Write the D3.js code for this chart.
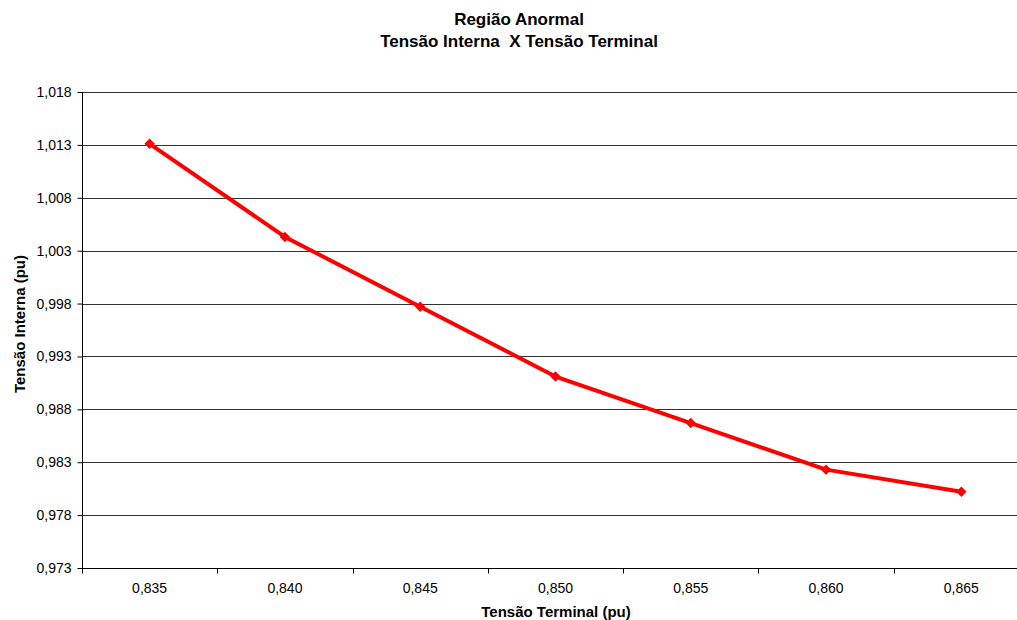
<!DOCTYPE html>
<html>
<head>
<meta charset="utf-8">
<script src="https://cdn.jsdelivr.net/npm/d3@7"></script>
<style>
  html, body { margin: 0; padding: 0; background: #fff; overflow: hidden; }
  svg { display: block; font-family: "Liberation Sans", Arial, sans-serif; }
  svg text { white-space: pre; }
</style>
</head>
<body>
<svg id="chart" width="1017" height="620"></svg>
<script>
// Terminal voltage categories (pu) and internal voltage readings (pu)
const categories = ["0,835", "0,840", "0,845", "0,850", "0,855", "0,860", "0,865"];
const internalVoltage = [1.0131, 1.0043, 0.9977, 0.9911, 0.9867, 0.9823, 0.9802];
const yTickValues = [0.973, 0.978, 0.983, 0.988, 0.993, 0.998, 1.003, 1.008, 1.013, 1.018];

const titleLines = ["Região Anormal", "Tensão Interna  X Tensão Terminal"];
const xTitle = "Tensão Terminal (pu)";
const yTitle = "Tensão Interna (pu)";

const svg = d3.select("#chart");
const plot = { left: 82, top: 92, right: 1029, bottom: 568 };

const x = d3.scaleBand().domain(categories).range([plot.left, plot.right]);
const y = d3.scaleLinear().domain([0.973, 1.018]).range([plot.bottom, plot.top]);

const fmt = v => d3.format(".3f")(v).replace(".", ",");

// Horizontal gridlines
svg.append("g")
  .selectAll("line")
  .data(yTickValues.slice(1))
  .join("line")
  .attr("x1", plot.left).attr("x2", plot.right)
  .attr("y1", d => Math.round(y(d)) + 0.5).attr("y2", d => Math.round(y(d)) + 0.5)
  .attr("stroke", "#333").attr("stroke-width", 1);

// Y axis
const yAxis = svg.append("g")
  .attr("transform", `translate(${plot.left + 0.5},0)`)
  .call(d3.axisLeft(y).tickValues(yTickValues).tickFormat(fmt).tickSize(5).tickPadding(6));
yAxis.select(".domain").attr("stroke", "#000").attr("d", `M0,${plot.top}V${plot.bottom}`);
yAxis.selectAll(".tick line").attr("stroke", "#000");
yAxis.selectAll("text").attr("font-size", 14).attr("fill", "#000")
  .attr("font-family", "'Liberation Sans', Arial, sans-serif");

// X axis: ticks at category boundaries
const xAxisG = svg.append("g").attr("transform", `translate(0,${plot.bottom + 0.5})`);
xAxisG.append("line")
  .attr("x1", plot.left).attr("x2", plot.right)
  .attr("stroke", "#000");
const boundaries = categories.map(c => x(c)).concat([x(categories[categories.length - 1]) + x.bandwidth()]);
xAxisG.selectAll("line.tick")
  .data(boundaries)
  .join("line")
  .attr("class", "tick")
  .attr("x1", d => Math.round(d) + 0.5).attr("x2", d => Math.round(d) + 0.5)
  .attr("y1", 0).attr("y2", 5)
  .attr("stroke", "#000");
xAxisG.selectAll("text")
  .data(categories)
  .join("text")
  .attr("x", d => x(d) + x.bandwidth() / 2)
  .attr("y", 24)
  .attr("text-anchor", "middle")
  .attr("font-size", 14)
  .text(d => d);

// Series line
const line = d3.line()
  .x((d, i) => x(categories[i]) + x.bandwidth() / 2)
  .y(d => y(d));

svg.append("path")
  .datum(internalVoltage)
  .attr("d", line)
  .attr("fill", "none")
  .attr("stroke", "#ff0000")
  .attr("stroke-width", 4)
  .attr("stroke-linejoin", "round");

// Diamond markers
svg.append("g")
  .selectAll("path")
  .data(internalVoltage)
  .join("path")
  .attr("transform", (d, i) => `translate(${x(categories[i]) + x.bandwidth() / 2},${y(d)})`)
  .attr("d", d3.symbol(d3.symbolDiamond2, 70))
  .attr("fill", "#ff0000");

// Titles
svg.append("g")
  .selectAll("text")
  .data(titleLines)
  .join("text")
  .attr("x", 519)
  .attr("y", (d, i) => 25 + i * 22)
  .attr("text-anchor", "middle")
  .attr("font-size", 17)
  .attr("font-weight", "bold")
  .text(d => d);

svg.append("text")
  .attr("x", 556)
  .attr("y", 617)
  .attr("text-anchor", "middle")
  .attr("font-size", 15)
  .attr("font-weight", "bold")
  .text(xTitle);

svg.append("text")
  .attr("transform", `translate(25,324) rotate(-90)`)
  .attr("text-anchor", "middle")
  .attr("font-size", 15)
  .attr("font-weight", "bold")
  .text(yTitle);
</script>
</body>
</html>
